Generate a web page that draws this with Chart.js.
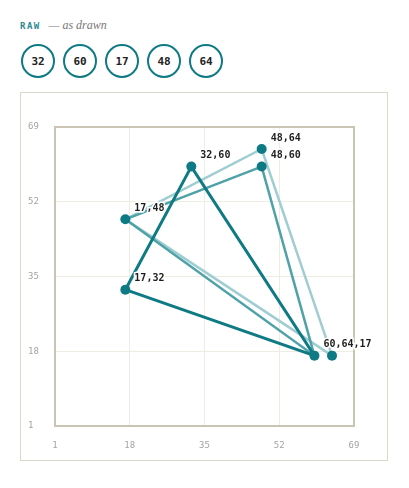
<!DOCTYPE html>
<html>
<head>
<meta charset="utf-8">
<script src="https://cdn.jsdelivr.net/npm/chart.js@4"></script>
<style>
  body { margin: 0; background: #fff; width: 409px; height: 488px; position: relative; overflow: hidden; }
  .head { position: absolute; left: 20px; top: 18px; font-size: 10px; white-space: nowrap; }
  .head .raw { font-family: "DejaVu Sans Mono", monospace; font-weight: bold; color: #2b8992; letter-spacing: 1.5px; font-size: 9px; }
  .head .note { font-family: "Liberation Serif", serif; font-style: italic; color: #777; font-size: 12px; margin-left: 8px; }
  .seq { position: absolute; left: 21px; top: 44px; display: flex; gap: 8px; }
  .seq div { width: 30px; height: 30px; border: 2.5px solid #0e7a84; border-radius: 50%;
             font-family: "DejaVu Sans Mono", monospace; font-weight: bold; font-size: 11px; color: #222;
             display: flex; align-items: center; justify-content: center; }
  .panel { position: absolute; left: 20px; top: 92px; width: 366px; height: 367px; border: 1px solid #dcd8c6; background: #fff; }
  canvas { display: block; }
</style>
</head>
<body>
<div class="head"><span class="raw">RAW</span><span class="note">— as drawn</span></div>
<div class="seq" id="seq"></div>
<div class="panel"><canvas id="pairsChart" width="366" height="367"></canvas></div>
<script>
const sequence = [32, 60, 17, 48, 64]
const axisTicks = [1, 18, 35, 52, 69]

// three closed loops, each point is (previous, next)
const darkX = [17, 32, 60, 17]
const darkY = [32, 60, 17, 32]
const midX = [17, 48, 60, 17]
const midY = [48, 60, 17, 48]
const lightX = [17, 48, 64, 17]
const lightY = [48, 64, 17, 48]

const pointX = [17, 32, 60, 17, 48, 48, 64]
const pointY = [32, 60, 17, 48, 60, 64, 17]

const labelX = [17, 32, 17, 48, 48, 60]
const labelY = [32, 60, 48, 64, 60, 17]
const labelText = ['17,32', '32,60', '17,48', '48,64', '48,60', '60,64,17']

const seqBox = document.getElementById('seq')
sequence.forEach(v => {
    const d = document.createElement('div')
    d.textContent = v
    seqBox.appendChild(d)
})

const toPoints = (xs, ys) => xs.map((x, i) => ({ x: x, y: ys[i] }))

const frameAndLabels = {
    id: 'frameAndLabels',
    beforeDatasetsDraw(chart) {
        const { ctx, chartArea } = chart
        ctx.save()
        ctx.strokeStyle = '#c9c4b4'
        ctx.lineWidth = 2
        ctx.strokeRect(chartArea.left, chartArea.top, chartArea.right - chartArea.left, chartArea.bottom - chartArea.top)
        ctx.restore()
    },
    afterDatasetsDraw(chart) {
        const { ctx, scales } = chart
        ctx.save()
        ctx.font = 'bold 10px "DejaVu Sans Mono", monospace'
        ctx.textBaseline = 'middle'
        ctx.textAlign = 'left'
        labelText.forEach((t, i) => {
            const px = scales.x.getPixelForValue(labelX[i]) + 9
            const py = scales.y.getPixelForValue(labelY[i]) - 11
            ctx.lineWidth = 3
            ctx.strokeStyle = '#fff'
            ctx.strokeText(t, px, py)
            ctx.fillStyle = '#1e1e1e'
            ctx.fillText(t, px, py)
        })
        ctx.restore()
    }
}

const tickFont = { family: '"DejaVu Sans Mono", monospace', size: 9 }

new Chart(document.getElementById('pairsChart').getContext('2d'), {
    type: 'scatter',
    data: {
        datasets: [
            {
                data: toPoints(pointX, pointY),
                pointRadius: 5,
                pointBackgroundColor: '#0e7a84',
                pointBorderWidth: 0,
                showLine: false
            },
            {
                data: toPoints(darkX, darkY),
                showLine: true,
                borderColor: '#0e7a84',
                borderWidth: 3,
                pointRadius: 0
            },
            {
                data: toPoints(midX, midY),
                showLine: true,
                borderColor: '#4fa2a8',
                borderWidth: 2.5,
                pointRadius: 0
            },
            {
                data: toPoints(lightX, lightY),
                showLine: true,
                borderColor: '#a0cdd1',
                borderWidth: 2.5,
                pointRadius: 0
            }
        ]
    },
    options: {
        responsive: false,
        animation: false,
        layout: { padding: { top: 34, right: 33, left: 7, bottom: 0 } },
        plugins: { legend: { display: false }, tooltip: { enabled: false } },
        scales: {
            x: {
                type: 'linear',
                min: axisTicks[0],
                max: axisTicks[axisTicks.length - 1],
                afterBuildTicks: s => { s.ticks = axisTicks.map(v => ({ value: v })) },
                afterFit: s => { s.height = 34 },
                grid: { color: '#efece2', drawTicks: false, lineWidth: 1 },
                border: { display: false },
                ticks: { color: '#a3a3a3', font: tickFont, padding: 14, maxRotation: 0 }
            },
            y: {
                type: 'linear',
                min: axisTicks[0],
                max: axisTicks[axisTicks.length - 1],
                afterBuildTicks: s => { s.ticks = axisTicks.map(v => ({ value: v })) },
                afterFit: s => { s.width = 27 },
                grid: { color: '#efece2', drawTicks: false, lineWidth: 1 },
                border: { display: false },
                ticks: { color: '#a3a3a3', font: tickFont, crossAlign: 'far', padding: 8 }
            }
        }
    },
    plugins: [frameAndLabels]
})
</script>
</body>
</html>
